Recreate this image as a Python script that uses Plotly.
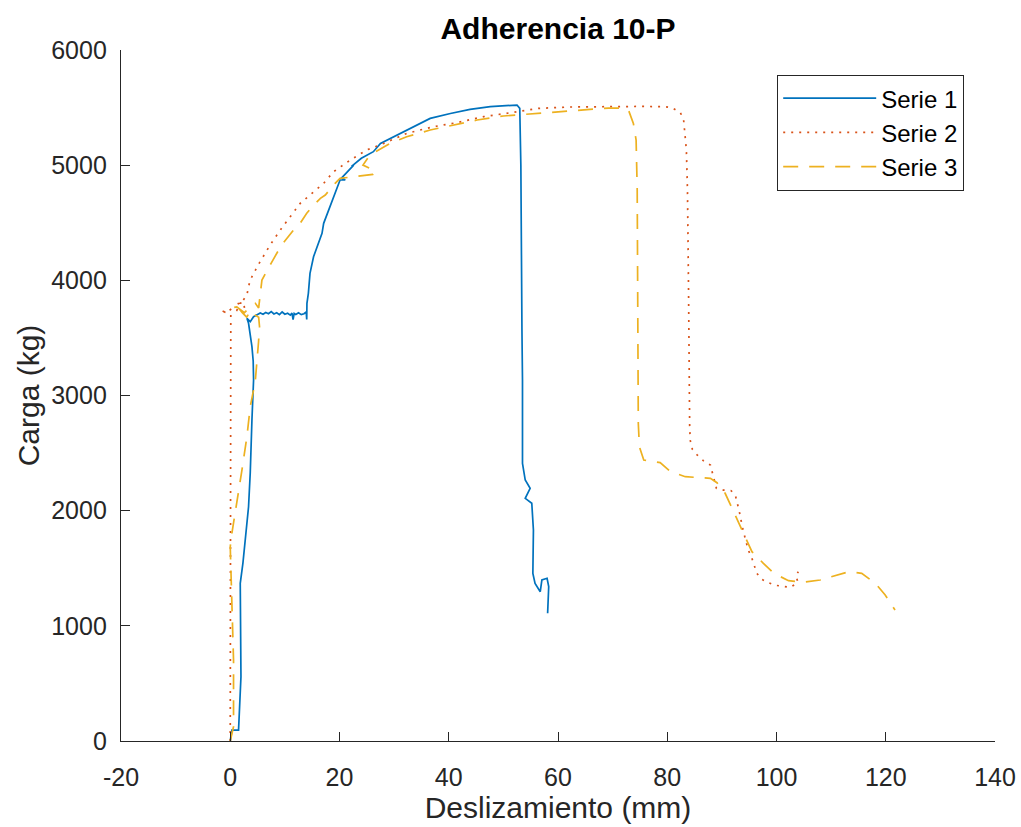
import plotly.graph_objects as go

# ---- data ----
serie1_x = [0, 0.3, 1.52, 1.96, 1.83, 2.32, 3.35, 3.66, 3.97, 4.27, 4.2, 3.97, 3.35, 3.05, 3.66, 4.27,
            5.5, 6.0, 6.5, 7.0, 7.5, 8.0, 8.5, 9.0, 9.5, 10.0, 10.5, 11.0, 11.3, 11.5, 11.7, 12.0,
            12.5, 13.0, 13.5, 13.9, 14.0, 14.04, 14.04, 14.3, 14.6, 15.25, 15.87, 16.8, 17.1, 18.3,
            19.5, 20.1, 21.05, 20.4, 22.6, 22.2, 24.0, 26.2, 27.5, 29.3, 31.1, 34.2, 36.6, 40.3,
            43.9, 47.6, 52.5, 53.0, 53.2, 53.4, 53.5, 53.5, 54.0, 54.9, 54.0, 55.2, 55.5, 55.4,
            55.8, 56.75, 57.05, 58.0, 58.3, 58.1]
serie1_y = [0, 95, 95, 558, 1369, 1545, 2034, 2327, 2787, 3135, 3300, 3424, 3627, 3670, 3641, 3684,
            3716, 3705, 3720, 3710, 3728, 3708, 3718, 3702, 3725, 3706, 3714, 3698, 3716, 3660, 3712, 3703,
            3718, 3702, 3710, 3725, 3660, 3699, 3800, 3887, 4061, 4205, 4292, 4408, 4495, 4639,
            4784, 4871, 4871, 4890, 5001, 4990, 5060, 5117, 5189, 5232, 5276, 5349, 5406, 5449,
            5485, 5508, 5522, 5493, 5000, 3569, 3135, 2411, 2266, 2194, 2107, 2064, 1832, 1456,
            1369, 1296, 1398, 1413, 1340, 1109]

serie2_x = [0, 0.05, 0.1, 0.1, 0.1, -1.8, -0.8, 0.5, 1.2, 1.8, 1.0, 2.2, 2.6, 2.4, 3.05, 3.35, 3.66,
            5.1, 7.3, 9.2, 11.0, 12.8, 14.6, 17.1, 18.9, 22.0, 25.0, 28.1, 32.3, 37.2, 41.5, 46.4,
            52.5, 56.4, 62.0, 67.7, 75.0, 79.6, 80.9, 82.4, 83.0, 83.5, 83.7, 83.9, 84.0, 84.1, 84.2,
            84.6, 85.5, 86.6, 87.9, 88.3, 89.0, 90.3, 91.7, 92.5, 92.9, 93.2, 93.5, 93.8, 94.5, 94.9,
            95.5, 95.9, 96.4, 97.3, 98.5, 99.8, 101.2, 102.5, 103.3, 103.9, 103.7, 103.7, 104.0]
serie2_y = [0, 1000, 2000, 3000, 3700, 3742, 3720, 3760, 3740, 3790, 3810, 3800, 3760, 3830, 3873, 3945, 4003,
            4133, 4307, 4440, 4552, 4668, 4741, 4842, 4943, 5045, 5132, 5189, 5276, 5334, 5369, 5421,
            5464, 5493, 5505, 5510, 5510, 5508, 5498, 5456, 5392, 5132, 4784, 3916, 3048, 2744, 2613,
            2533, 2483, 2434, 2396, 2330, 2194, 2179, 2173, 2127, 2058, 1991, 1919, 1847, 1717, 1652,
            1586, 1520, 1456, 1404, 1375, 1352, 1340, 1334, 1357, 1383, 1413, 1450, 1470]

serie3_x = [0, 0.3, 0.6, 0.6, 0.3, 0.12, 0, 0.3, 1.22, 2.14, 3.05, 3.66, 4.27, 4.6, 5.18, 5.36, 5.2,
            4.5, 3.8, 3.0, 2.2, 1.5, 0.6, 0.3, 1.2, 2.6, 3.5, 4.6, 5.2, 5.5, 5.8, 7.5, 9.3, 11.6,
            12.8, 14.0, 15.0, 16.5, 17.4, 19.2, 20.1, 26.1, 26.6, 24.3, 25.6, 29.3, 32.3, 36.6, 40.9,
            45.2, 50.0, 54.9, 62.0, 69.2, 71.8, 72.9, 73.8, 74.3, 74.5, 74.6, 74.7, 74.9, 75.7, 78.7,
            80.6, 83.3, 86.0, 87.9, 89.1, 90.6, 92.0, 93.1, 94.3, 95.5, 97.6, 99.5, 102.2, 104.9,
            108.0, 110.4, 113.2, 115.6, 118.1, 119.9, 121.7]
serie3_y = [0, 60, 124, 703, 1253, 1572, 1687, 1803, 2064, 2353, 2642, 2903, 3048, 3135, 3467, 3597, 3680,
            3700, 3740, 3680, 3720, 3760, 3740, 3760, 3770, 3720, 3760, 3800, 3760, 3916, 4003, 4150, 4300, 4437,
            4495, 4582, 4639, 4712, 4741, 4842, 4885, 4920, 4950, 5001, 5090, 5189, 5247, 5305, 5349,
            5392, 5427, 5444, 5470, 5496, 5496, 5479, 5363, 5218, 4784, 3627, 2759, 2555, 2440, 2417,
            2339, 2295, 2286, 2281, 2243, 2151, 2006, 1890, 1760, 1644, 1543, 1456, 1392, 1378,
            1398, 1433, 1470, 1456, 1369, 1268, 1137]

x_ticks = [-20, 0, 20, 40, 60, 80, 100, 120, 140]
y_ticks = [0, 1000, 2000, 3000, 4000, 5000, 6000]

FONT = "Liberation Sans, Arial, Helvetica, sans-serif"
AX = "#262626"

fig = go.Figure()
fig.add_trace(go.Scatter(x=serie1_x, y=serie1_y, mode="lines", name="Serie 1",
                         line=dict(color="#0072BD", width=1.7)))
fig.add_trace(go.Scatter(x=serie2_x, y=serie2_y, mode="lines", name="Serie 2",
                         line=dict(color="#D95319", width=1.7, dash="2px,6px")))
fig.add_trace(go.Scatter(x=serie3_x, y=serie3_y, mode="lines", name="Serie 3",
                         line=dict(color="#EDB120", width=1.7, dash="15px,11px")))

fig.update_layout(
    width=1021, height=827,
    margin=dict(l=121, r=26, t=50, b=86, autoexpand=False),
    paper_bgcolor="white", plot_bgcolor="white",
    font=dict(family=FONT, color=AX, size=25),
    title=dict(text="<b>Adherencia 10-P</b>", x=(121 + 995) / 2 / 1021, xanchor="center",
               y=1 - 28 / 827, yanchor="middle", yref="container",
               font=dict(family=FONT, size=30, color="black")),
    showlegend=True,
    legend=dict(x=(777 - 121) / 874, y=0.964, xanchor="left", yanchor="top",
                bordercolor=AX, borderwidth=1.2, bgcolor="white",
                font=dict(family=FONT, size=24, color="black"),
                itemwidth=93, tracegroupgap=0),
)
fig.update_xaxes(
    range=[-20, 140], tickvals=x_ticks, ticktext=[str(v) for v in x_ticks],
    showgrid=False, zeroline=False, showline=True, linecolor=AX, linewidth=1.3,
    ticks="inside", ticklen=9, tickcolor=AX, tickwidth=1.3, automargin=False,
    tickfont=dict(size=25, color=AX), ticklabelstandoff=14,
    title=dict(text="Deslizamiento (mm)", font=dict(size=30, color=AX), standoff=6),
)
fig.update_yaxes(
    range=[0, 6000], tickvals=y_ticks, ticktext=[str(v) for v in y_ticks],
    showgrid=False, zeroline=False, showline=True, linecolor=AX, linewidth=1.3,
    ticks="inside", ticklen=9, tickcolor=AX, tickwidth=1.3, automargin=False,
    tickfont=dict(size=25, color=AX), ticklabelstandoff=8,
    title=dict(text="Carga (kg)", font=dict(size=30, color=AX), standoff=2),
)

fig.write_html("out.html", config={"displayModeBar": False},
               post_script="document.body.style.margin='0';")
